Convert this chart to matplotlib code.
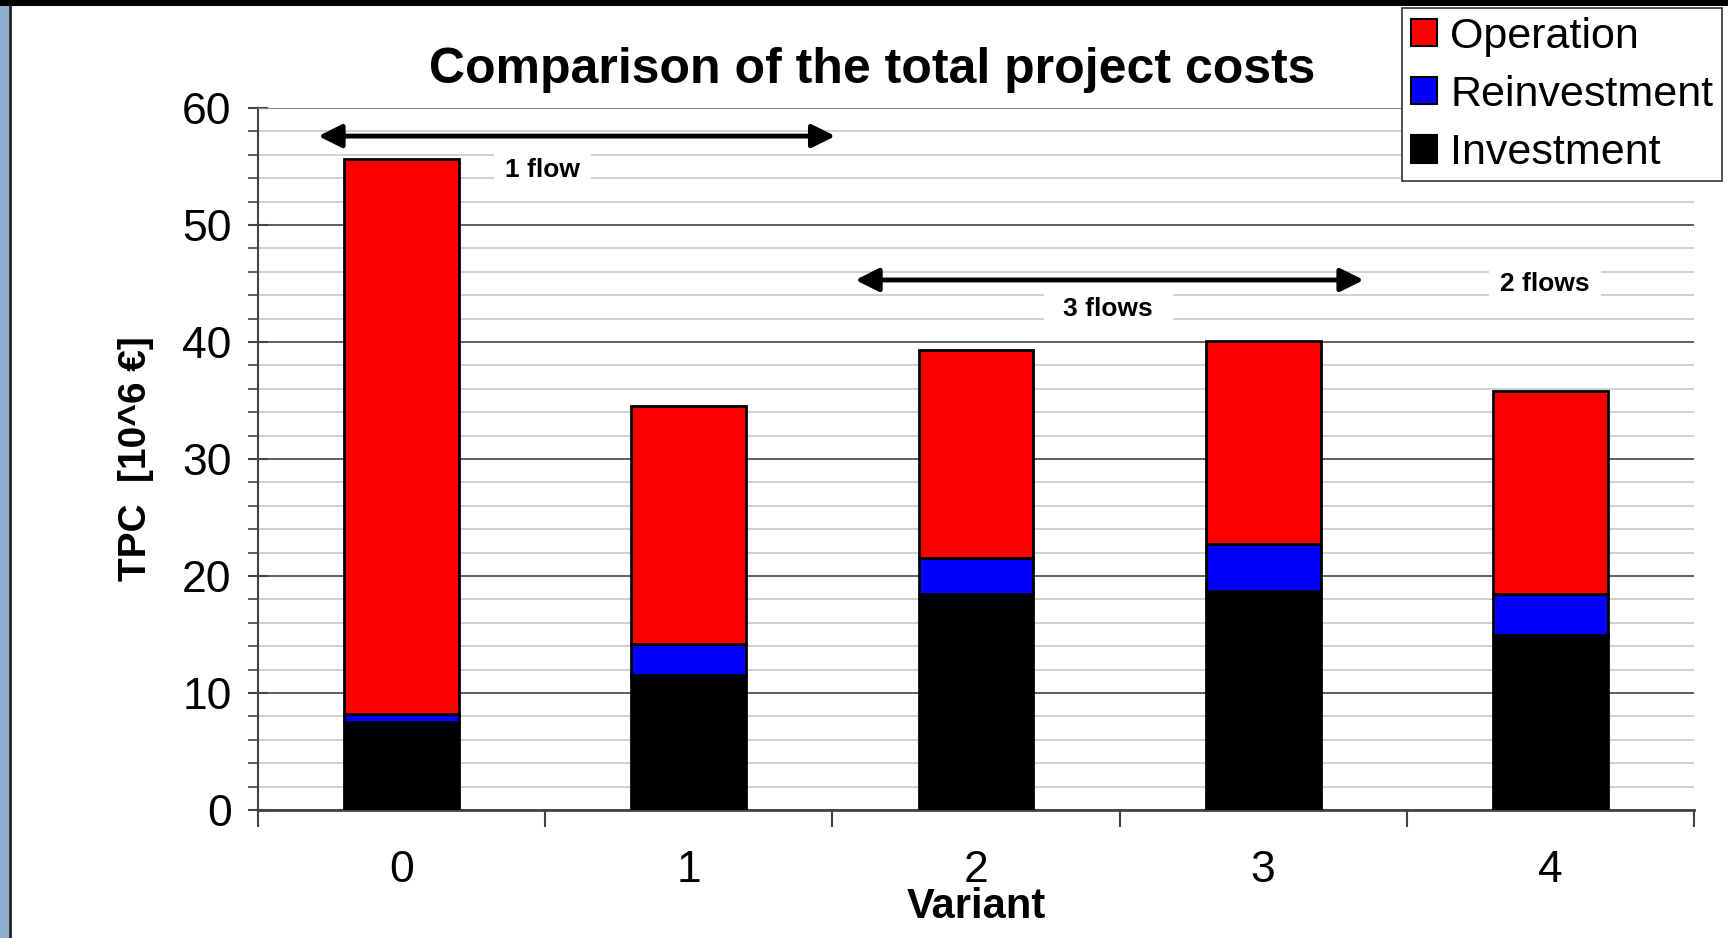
import numpy as np
import matplotlib.pyplot as plt
from matplotlib.patches import Rectangle
from matplotlib.lines import Line2D

plt.rcParams['font.family'] = ['Liberation Sans', 'DejaVu Sans']

# data
variants = ['0', '1', '2', '3', '4']
investment = [7.5, 11.5, 18.5, 18.7, 15.0]
reinvestment = [0.7, 2.7, 3.0, 4.0, 3.5]
operation = [47.4, 20.3, 17.8, 17.4, 17.3]

W, H = 1728, 938
fig = plt.figure(figsize=(W / 100, H / 100), dpi=100)
ax = fig.add_axes([258 / W, 1 - 810 / H, (1694 - 258) / W, (810 - 108) / H])

# page decorations (slide edge)
fig.patches.append(Rectangle((0, 0), 9 / W, 1, transform=fig.transFigure,
                             facecolor='#8eaed0', edgecolor='none'))
fig.patches.append(Rectangle((0, 1 - 6 / H), 1, 6 / H, transform=fig.transFigure,
                             facecolor='black', edgecolor='none'))
fig.lines.append(Line2D([10 / W, 10 / W], [0, 1 - 6 / H], transform=fig.transFigure,
                        color='#222222', lw=2))

x = np.arange(len(variants))
inv = np.array(investment)
rei = np.array(reinvestment)
ope = np.array(operation)
w = 0.4
ax.bar(x, inv, w, color='black', edgecolor='black', lw=2, label='Investment', zorder=3)
ax.bar(x, rei, w, bottom=inv, color='blue', edgecolor='black', lw=2, label='Reinvestment', zorder=3)
ax.bar(x, ope, w, bottom=inv + rei, color='red', edgecolor='black', lw=2, label='Operation', zorder=3)

ax.set_xlim(-0.5, 4.5)
ax.set_ylim(0, 60)
ax.set_yticks(np.arange(0, 61, 10))
ax.set_yticks(np.arange(0, 61, 2), minor=True)
ax.grid(True, which='minor', axis='y', color='#c8c8c8', lw=1.2, zorder=0)
ax.grid(True, which='major', axis='y', color='#444444', lw=1.2, zorder=0)
ax.tick_params(axis='y', which='major', direction='inout', length=14, width=1.5,
               labelsize=32, pad=12, color='#444444')
ax.tick_params(axis='y', which='minor', direction='out', length=7, width=1.2, color='#444444')

# x ticks at the category borders, labels in the middle
ax.set_xticks(np.arange(-0.5, 4.6, 1.0))
ax.set_xticklabels([])
ax.set_xticks(x, minor=True)
ax.set_xticklabels(variants, minor=True)
ax.tick_params(axis='x', which='major', direction='out', length=12, width=1.5, color='#444444')
ax.tick_params(axis='x', which='minor', length=0, labelsize=32, pad=29)

ax.spines['right'].set_visible(False)
ax.spines['top'].set_color('#888888')
ax.spines['left'].set_color('#444444')
ax.spines['bottom'].set_color('#444444')
ax.spines['left'].set_linewidth(1.5)
ax.spines['bottom'].set_linewidth(2)

ax.set_ylabel('TPC  [10^6 €]', fontsize=28, fontweight='bold', labelpad=20)
ax.set_xlabel('Variant', fontsize=30, fontweight='bold', labelpad=-3)
fig.text(872 / W, 1 - 70 / H, 'Comparison of the total project costs',
         fontsize=36, fontweight='bold', ha='center', va='center')

# flow annotations
arrow = dict(arrowstyle='<|-|>', color='black', lw=3.5, mutation_scale=35,
             shrinkA=0, shrinkB=0)
ax.annotate('', xy=(-0.29, 57.6), xytext=(1.51, 57.6), arrowprops=arrow, zorder=5)
ax.annotate('', xy=(1.58, 45.3), xytext=(3.35, 45.3), arrowprops=arrow, zorder=5)
box = dict(facecolor='white', edgecolor='none', pad=8)
ax.text(0.49, 54.7, '1 flow', fontsize=19, fontweight='bold', ha='center', va='center',
        bbox=box, zorder=4)
ax.text(2.46, 42.8, '3 flows', fontsize=19, fontweight='bold', ha='center', va='center',
        bbox=dict(facecolor='white', edgecolor='none', pad=14), zorder=4)
ax.text(3.98, 45.0, '2 flows', fontsize=19, fontweight='bold', ha='center', va='center',
        bbox=box, zorder=4)

handles, labels = ax.get_legend_handles_labels()
leg = fig.legend(handles[::-1], labels[::-1], loc='upper right',
                 bbox_to_anchor=(1722 / W, 1 - 8 / H), fontsize=31,
                 frameon=True, fancybox=False, shadow=False, framealpha=1,
                 edgecolor='#333333', handlelength=0.62, handleheight=0.62,
                 handletextpad=0.3, labelspacing=0.42, borderpad=0.2, borderaxespad=0)
leg.get_frame().set_linewidth(1.2)
for p in leg.get_patches():
    p.set_edgecolor('black')
    p.set_linewidth(1.5)

fig.savefig('out.png', dpi=100, facecolor='white')
